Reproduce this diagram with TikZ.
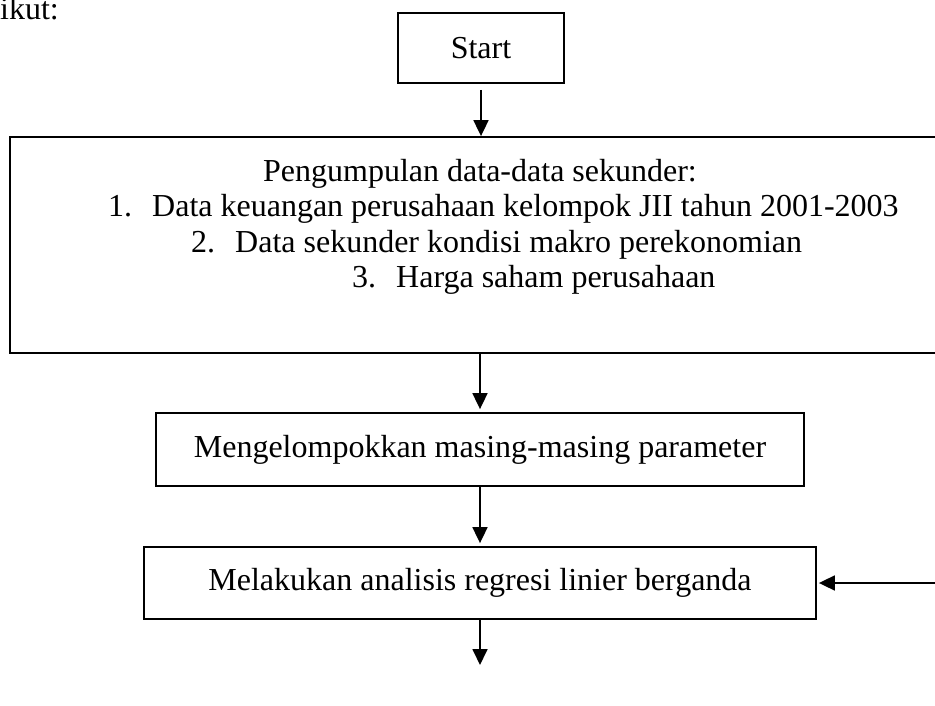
\documentclass[tikz,border=0pt]{standalone}
\usepackage{fontspec}
\setmainfont{Liberation Serif}
\usetikzlibrary{arrows.meta}
\begin{document}
\begin{tikzpicture}[x=1pt,y=-1pt,
  box/.style={draw, line width=1.8pt, inner sep=0pt, font=\fontsize{32}{36}\selectfont},
  flow/.style={line width=1.8pt, -{Triangle[length=16pt,width=15pt]}},
  txt/.style={font=\fontsize{32}{36}\selectfont, inner sep=0pt, anchor=base west},
  numlbl/.style={font=\fontsize{32}{36}\selectfont, inner sep=0pt, anchor=base west}]
\useasboundingbox (0,0) rectangle (935,706);
% partial caption at top left
\node[font=\fontsize{32}{36}\selectfont, inner sep=0pt, anchor=base east] (cap) at (59,20) {rikut:};
% boxes
\node[box, minimum width=166pt, minimum height=70pt] (start) at (481,48) {Start};
\node[box, minimum width=940pt, minimum height=216pt] (big) at (480,245) {};
\node[box, minimum width=648pt, minimum height=73pt] (group) at (480,449.5) {Mengelompokkan masing-masing parameter};
\node[box, minimum width=672pt, minimum height=72pt] (regr) at (480,583) {Melakukan analisis regresi linier berganda};
% texts inside big box
\node[font=\fontsize{32}{36}\selectfont, inner sep=0pt, anchor=base] (head) at (480,182) {Pengumpulan data-data sekunder:};
\node[numlbl] (n1) at (108,217) {1.};
\node[txt] (t1) at (152,217) {Data keuangan perusahaan kelompok JII tahun 2001-2003};
\node[numlbl] (n2) at (191,252) {2.};
\node[txt] (t2) at (235,252) {Data sekunder kondisi makro perekonomian};
\node[numlbl] (n3) at (352,287) {3.};
\node[txt] (t3) at (396,287) {Harga saham perusahaan};
% connectors
\coordinate (s1) at (481,90);
\draw[flow] (s1) -- (s1 |- big.north);
\draw[flow, shorten >=3pt] (big.south) -- (group.north);
\draw[flow, shorten >=3pt] (group.south) -- (regr.north);
\coordinate (fb) at (940,583);
\draw[flow, shorten >=2pt] (fb) -- (regr.east);
\coordinate (endpt) at (480,665);
\draw[flow] (regr.south) -- (endpt);
\end{tikzpicture}
\end{document}
